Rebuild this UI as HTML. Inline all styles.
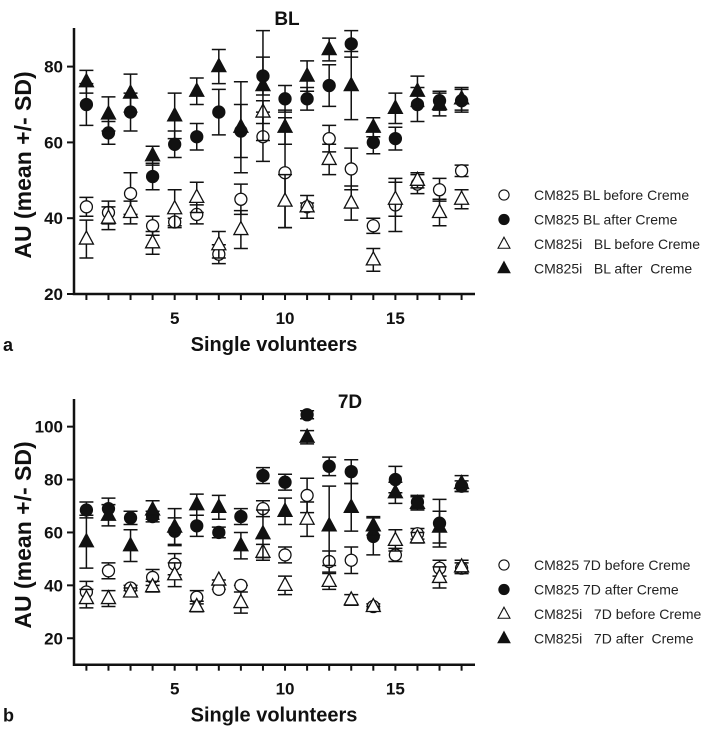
<!DOCTYPE html>
<html><head><meta charset="utf-8"><style>
body{margin:0;background:#fff;}
svg{display:block;font-family:"Liberation Sans",sans-serif;}
</style></head><body>
<svg id="c" width="702" height="731"></svg>
<script>
const volunteers=[1,2,3,4,5,6,7,8,9,10,11,12,13,14,15,16,17,18];
const blBefore825=[43,41.5,46.5,38,39,41,30.5,45,61.5,52,43,61,53,38,43.5,49,47.5,52.5];
const blBefore825Sd=[2.5,3,5.5,2.5,1,2.5,2.5,4,6.5,14.5,1,3.5,5.5,2,7,2.5,3,1.5];
const blAfter825=[70,62.5,68,51,59.5,61.5,68,63,77.5,71.5,71.5,75,86,60,61,70,71,71];
const blAfter825Sd=[5.5,3,5,3.5,3.5,3.5,6,7,5,3.5,3,5.5,3.5,3,3,4.5,2.5,3];
const blBefore825i=[34.5,40,41.5,33.5,42.5,45.5,33,37,68,44.5,43,55.5,44,29,45,50,41.5,45];
const blBefore825iSd=[5,3,3,3,5,4,3.5,5,3,7,3,4,4.5,3,4.5,2,3.5,2.5];
const blAfter825i=[76,67.5,73,56.5,67,73.5,80,64,75,64,77.5,84.5,75,64,69,73.5,70,71.5];
const blAfter825iSd=[3,4.5,5,2.5,6,3.5,4.5,12,14.5,4.5,4,3,9,2.5,4,4,3,3];
const d7Before825=[37.5,45.5,39,43,48,35.5,38.5,40,69,51.5,74,49,49.5,32,51.5,59.5,46.5,46.5];
const d7Before825Sd=[4,3,1,3,4,2.5,0,0,3,3,6.5,4,5,1,2.5,2,3,2];
const d7After825=[68.5,69,65.5,66,60.5,62.5,60,66,81.5,79,104.5,85,83,58.5,80,71.5,63.5,77.5];
const d7After825Sd=[3,4,2.5,2,5,4,2,3,3,3,1.5,3.5,4.5,7,5,2.5,9,2];
const d7Before825i=[35,35,37.5,39.5,44,32,42,33.5,52.5,40,65,41.5,34.5,32,57,58,43,47];
const d7Before825iSd=[3.5,3,1.5,2,4.5,2,0,4,3,3.5,6.5,3,2,0,4,2,4,2.5];
const d7After825i=[56.5,66.5,55,68.5,62,70.5,69.5,55,59.5,68,96,62.5,69.5,62.5,75,71,62,78.5];
const d7After825iSd=[10,4,6,3.5,7,4,4.5,5,9,5,2.5,15,9,3.5,4,2.5,6,3];
const xTicks=[5,10,15];
const yTicksBL=[20,40,60,80];
const yTicks7D=[20,40,60,80,100];

const NS="http://www.w3.org/2000/svg";
const svg=document.getElementById('c');
function el(t,a,p){const e=document.createElementNS(NS,t);for(const k in a)e.setAttribute(k,a[k]);(p||svg).appendChild(e);return e;}
const xs=v=>86.4+(v-1)*22.07;

function panel(o){
  const g=el('g',{});
  
  
  const ys=v=>o.y0-(v-o.v0)*o.k;
  const ax=el('path',{d:`M74 ${o.top} V${o.y0b} H475`,stroke:'#111','stroke-width':2.5,fill:'none'},g);
  
  volunteers.forEach(v=>{const t=el('line',{x1:xs(v),x2:xs(v),y1:o.y0b,y2:o.y0b+6,stroke:'#111','stroke-width':2},g);
    });
  xTicks.forEach(v=>{const t=el('text',{x:xs(v),y:o.y0b+30,'text-anchor':'middle','font-size':17,'font-weight':'bold',fill:'#111'},g);t.textContent=v;
    });
  o.yt.forEach(v=>{const y=ys(v);
    const t=el('line',{x1:67,x2:74,y1:y,y2:y,stroke:'#111','stroke-width':2},g);
    
    const l=el('text',{x:63,y:y+6,'text-anchor':'end','font-size':17,'font-weight':'bold',fill:'#111'},g);l.textContent=v;
    });
  const ti=el('text',{x:o.tx,y:o.ty,'text-anchor':'middle','font-size':19,'font-weight':'bold',fill:'#111'},g);ti.textContent=o.title;
  
  const yt=el('text',{x:0,y:0,transform:`translate(31 ${o.ymid}) rotate(-90)`,'text-anchor':'middle','font-size':23,'font-weight':'bold',fill:'#111'},g);yt.textContent='AU (mean +/- SD)';
  
  const xt=el('text',{x:274,y:o.y0b+57,'text-anchor':'middle','font-size':20,'font-weight':'bold',fill:'#111'},g);xt.textContent='Single volunteers';
  
  const pl=el('text',{x:3,y:o.y0b+57,'font-size':18,'font-weight':'bold',fill:'#111'},g);pl.textContent=o.letter;
  
  function marker(shape,fill,x,y,p){
    if(shape==='c')return el('circle',{cx:x,cy:y,r:6,fill:fill,stroke:'#111','stroke-width':1.3},p);
    return el('path',{d:`M${x} ${y-8} L${x+7} ${y+5} L${x-7} ${y+5} Z`,fill:fill,stroke:'#111','stroke-width':1.3},p);
  }
  o.series.forEach((s,si)=>{
    const sg=el('g',{},g);
    
    
    s.vals.forEach((v,i)=>{
      const x=xs(volunteers[i]),y=ys(v),hi=ys(v+s.sd[i]),lo=ys(v-s.sd[i]);
      const e=el('path',{d:`M${x} ${hi} V${lo} M${x-7} ${hi} H${x+7} M${x-7} ${lo} H${x+7}`,stroke:'#111','stroke-width':1.5,fill:'none'},sg);
      
      const m=marker(s.shape,s.fill,x,y,sg);
      
    });
    const ly=o.ly+si*24.5;
    const lg=el('g',{},g);
    
    const lm=marker(s.shape,s.fill,504,ly,lg);
    lm.setAttribute('transform',`translate(504 ${ly}) scale(0.85) translate(-504 ${-ly})`);
    const lt=el('text',{x:534,y:ly+5,'font-size':14,fill:'#222'},lg);lt.textContent=s.label;
    lt.setAttribute('xml:space','preserve');lt.style.whiteSpace='pre';
  });
}
panel({name:'chart-bl',y0:294,v0:20,k:3.79,y0b:294,top:28,yt:yTicksBL,title:'BL',tx:287,ty:25,ymid:165,letter:'a',ly:195,
 series:[
 {label:'CM825 BL before Creme',shape:'c',fill:'#fff',vals:blBefore825,sd:blBefore825Sd},
 {label:'CM825 BL after Creme',shape:'c',fill:'#111',vals:blAfter825,sd:blAfter825Sd},
 {label:'CM825i   BL before Creme',shape:'t',fill:'#fff',vals:blBefore825i,sd:blBefore825iSd},
 {label:'CM825i   BL after  Creme',shape:'t',fill:'#111',vals:blAfter825i,sd:blAfter825iSd}]});
panel({name:'chart-7d',y0:664.7,v0:10,k:2.645,y0b:664.7,top:399,yt:yTicks7D,title:'7D',tx:350,ty:408,ymid:535,letter:'b',ly:565,
 series:[
 {label:'CM825 7D before Creme',shape:'c',fill:'#fff',vals:d7Before825,sd:d7Before825Sd},
 {label:'CM825 7D after Creme',shape:'c',fill:'#111',vals:d7After825,sd:d7After825Sd},
 {label:'CM825i   7D before Creme',shape:'t',fill:'#fff',vals:d7Before825i,sd:d7Before825iSd},
 {label:'CM825i   7D after  Creme',shape:'t',fill:'#111',vals:d7After825i,sd:d7After825iSd}]});
</script>
</body></html>
